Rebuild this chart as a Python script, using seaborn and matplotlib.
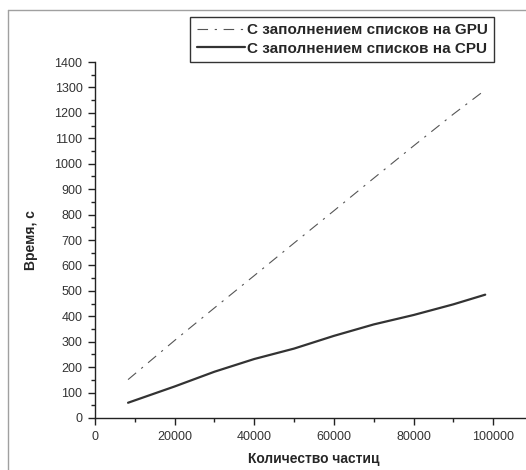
import matplotlib
matplotlib.use("Agg")
import matplotlib.pyplot as plt
from matplotlib.lines import Line2D
from matplotlib.ticker import MultipleLocator
import seaborn as sns
import pandas as pd

sns.set_style("ticks")
plt.rcParams["font.family"] = ["Liberation Sans", "DejaVu Sans"]

# particle counts and times (s)
particles = [8300, 20000, 30000, 40000, 50000, 60000, 70000, 80000, 90000, 98000]
gpu_time = [151, 305, 433, 560, 688, 815, 943, 1070, 1195, 1290]
cpu_time = [60, 124, 182, 232, 273, 323, 368, 405, 447, 485]

gpu_label = "С заполнением списков на GPU"
cpu_label = "С заполнением списков на CPU"

df = pd.DataFrame({"particles": particles, "gpu": gpu_time, "cpu": cpu_time})

fig = plt.figure(figsize=(5.26, 4.70), dpi=100)
W, H = 526, 470
ax = fig.add_axes([95 / W, (H - 418) / H, 438 / W, 356 / H])

sns.lineplot(data=df, x="particles", y="gpu", ax=ax, color="#555555",
             linewidth=0.8, label=gpu_label)
ax.lines[-1].set_dashes((9.5, 6, 2, 6))
sns.lineplot(data=df, x="particles", y="cpu", ax=ax, color="#333333",
             linewidth=1.6, label=cpu_label)

ax.set_xlim(0, 110000)
ax.set_ylim(0, 1400)
ax.xaxis.set_major_locator(MultipleLocator(20000))
ax.xaxis.set_minor_locator(MultipleLocator(10000))
ax.yaxis.set_major_locator(MultipleLocator(100))
ax.yaxis.set_minor_locator(MultipleLocator(50))
ax.tick_params(which="major", direction="out", length=5, width=1,
               labelsize=9, colors="#222222", pad=4)
ax.tick_params(which="minor", direction="out", length=3, width=1, colors="#222222")
ax.tick_params(labelcolor="#333333")
for s in ["top", "right"]:
    ax.spines[s].set_visible(False)
for s in ["left", "bottom"]:
    ax.spines[s].set_color("#222222")
    ax.spines[s].set_linewidth(1)

ax.set_xlabel("Количество частиц", fontsize=10, fontweight="bold", labelpad=7)
ax.set_ylabel("Время, с", fontsize=10, fontweight="bold", labelpad=12)

ax.get_legend().remove()
leg = fig.legend(handles=ax.lines[:2], labels=[gpu_label, cpu_label],
                 loc="upper right", bbox_to_anchor=(494 / W, 1 - 17 / H),
                 frameon=True, fancybox=False, edgecolor="black",
                 prop={"size": 11, "weight": "bold"}, handlelength=3.2,
                 handletextpad=0.1, borderpad=0.4, labelspacing=0.3,
                 borderaxespad=0)
leg.get_frame().set_linewidth(1)

# thin gray frame around the picture (left and top edges)
fig.add_artist(Line2D([8 / W, 8 / W], [0, 1 - 10 / H], color="#a0a0a0", lw=1))
fig.add_artist(Line2D([8 / W, 1], [1 - 10 / H, 1 - 10 / H], color="#a0a0a0", lw=1))

fig.savefig("out.png", dpi=100)
